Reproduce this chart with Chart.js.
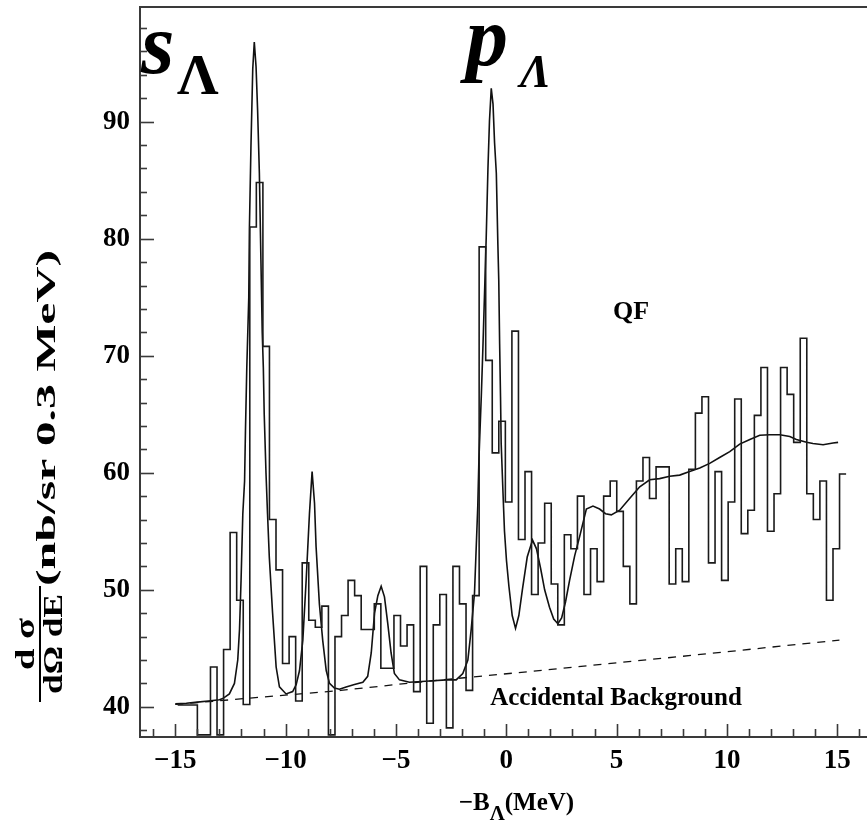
<!DOCTYPE html>
<html>
<head>
<meta charset="utf-8">
<script src="https://cdn.jsdelivr.net/npm/chart.js@4.4.0/dist/chart.umd.min.js"></script>
<style>
  body { margin: 0; background: #fff; }
  #wrap { width: 867px; height: 824px; }
</style>
</head>
<body>
<div id="wrap"><canvas id="espectro" width="867" height="824"></canvas></div>
<script>
// histogram: 0.3 MeV bins (as drawn), first bin starts at binStart
const binStart = -14.0;
const binWidth = 0.297;
const preBins = [40.15, 40.15, 40.15];
const counts = [
  37.6, 37.6, 43.4, 37.6, 44.9, 54.9, 49.1, 40.2, 81.0, 84.8,
  70.8, 56.0, 51.7, 43.7, 46.0, 40.5, 52.3, 47.4, 46.8, 48.6,
  37.6, 46.0, 47.8, 50.8, 49.5, 46.6, 46.6, 48.8, 43.3, 43.3,
  47.8, 45.2, 47.0, 41.3, 52.0, 38.6, 47.0, 49.6, 38.2, 52.0,
  48.8, 41.4, 49.5, 79.3, 69.6, 61.7, 64.4, 57.5, 72.1, 54.3,
  60.1, 49.6, 54.0, 57.4, 50.5, 47.0, 54.7, 53.5, 58.0, 49.6,
  53.5, 50.7, 58.0, 59.3, 56.7, 52.0, 48.8, 59.3, 61.3, 57.8,
  60.5, 60.5, 50.5, 53.5, 50.7, 60.3, 65.1, 66.5, 52.3, 60.1,
  50.8, 57.5, 66.3, 54.8, 56.8, 64.9, 69.0, 55.0, 58.2, 69.0,
  66.7, 62.6, 71.5, 58.2, 56.0, 59.3, 49.1, 53.5, 59.9
];

// fitted curve
const fitX = [-15.0, -14.5, -14.0, -13.5, -13.0, -12.85, -12.55, -12.32, -12.17, -12.09,
  -12.02, -11.94, -11.86, -11.82, -11.76, -11.67, -11.64, -11.57, -11.49, -11.42,
  -11.34, -11.27, -11.19, -11.12, -11.06, -11.01, -10.97, -10.89, -10.82, -10.74,
  -10.59, -10.43, -10.28, -9.98, -9.68, -9.52, -9.37, -9.22, -9.07, -8.92,
  -8.80, -8.69, -8.62, -8.47, -8.32, -8.16, -8.01, -7.79, -7.56, -7.26,
  -6.88, -6.50, -6.28, -6.12, -5.97, -5.82, -5.67, -5.52, -5.37, -5.22,
  -5.07, -4.84, -4.39, -3.48, -2.72, -2.27, -1.97, -1.74, -1.59, -1.44,
  -1.29, -1.24, -1.13, -1.06, -0.91, -0.83, -0.76, -0.68, -0.60, -0.53,
  -0.45, -0.38, -0.34, -0.30, -0.26, -0.23, -0.15, -0.08, 0.01, 0.12,
  0.27, 0.42, 0.57, 0.73, 0.95, 1.19, 1.37, 1.56, 1.74, 1.96,
  2.15, 2.34, 2.51, 2.69, 2.87, 3.10, 3.32, 3.63, 3.93, 4.23,
  4.50, 4.76, 5.14, 5.59, 6.05, 6.50, 6.95, 7.41, 7.86, 8.31,
  8.77, 9.22, 9.67, 10.13, 10.58, 11.04, 11.49, 11.94, 12.40, 12.85,
  13.15, 13.61, 13.90, 14.36, 14.81, 15.04];
const fitY = [40.25, 40.3, 40.4, 40.5, 40.6, 40.7, 41.1, 42.0, 44.0, 46.6,
  50.8, 56.5, 59.3, 63.6, 69.0, 75.0, 81.0, 88.0, 94.5, 96.8,
  94.7, 91.0, 85.6, 78.2, 72.0, 69.0, 65.0, 60.0, 56.5, 52.8,
  48.0, 43.4, 41.7, 41.1, 41.3, 41.9, 43.1, 45.7, 50.8, 56.5,
  60.1, 57.4, 53.7, 48.8, 45.7, 43.1, 42.0, 41.6, 41.5, 41.7,
  41.9, 42.1, 42.6, 44.6, 48.0, 49.5, 50.3, 49.4, 47.1, 44.6,
  42.85, 42.3, 42.1, 42.2, 42.3, 42.3, 42.85, 44.0, 46.6, 49.7,
  57.2, 61.1, 66.6, 70.6, 80.0, 86.0, 90.1, 92.85, 91.5, 88.2,
  85.6, 79.5, 76.5, 71.0, 66.5, 62.5, 58.4, 55.0, 52.5, 50.3,
  47.8, 46.7, 47.8, 50.0, 52.8, 54.25, 53.5, 51.8, 50.0, 48.5,
  47.5, 47.1, 47.6, 49.0, 50.8, 52.9, 54.5, 56.9, 57.15, 56.9,
  56.5, 56.4, 56.8, 57.8, 58.8, 59.4, 59.5, 59.7, 59.8, 60.1,
  60.4, 60.8, 61.3, 61.8, 62.45, 62.85, 63.2, 63.25, 63.25, 63.1,
  62.85, 62.6, 62.5, 62.4, 62.55, 62.6];

// accidental background (dashed)
const bgX = [-15.0, -7.5, -3.5, 1.0, 7.9, 15.1];
const bgY = [40.2, 41.4, 42.2, 43.0, 44.3, 45.7];

const xTicks = [-15, -10, -5, 0, 5, 10, 15];
const yTicks = [40, 50, 60, 70, 80, 90];

const serif = '"Liberation Serif", "DejaVu Serif", serif';

// build step points from the bins
const allBins = preBins.concat(counts);
const firstEdge = binStart - preBins.length * binWidth;
const histPoints = allBins.map((v, i) => ({ x: firstEdge + i * binWidth, y: v }));
histPoints.push({ x: firstEdge + allBins.length * binWidth, y: allBins[allBins.length - 1] });

const fitPoints = fitX.map((x, i) => ({ x: x, y: fitY[i] }));
const bgPoints = bgX.map((x, i) => ({ x: x, y: bgY[i] }));

function stretchedText(ctx, txt, x, y, len) {
  const w = ctx.measureText(txt).width;
  ctx.save();
  ctx.translate(x, y);
  ctx.scale(len / w, 1);
  ctx.fillText(txt, 0, 0);
  ctx.restore();
}

const decoraciones = {
  id: 'decoraciones',
  afterDraw(chart) {
    const ctx = chart.ctx;
    const a = chart.chartArea;
    const xs = chart.scales.x;
    const ys = chart.scales.y;
    ctx.save();
    ctx.strokeStyle = '#3a3a3a';
    ctx.lineWidth = 2;
    ctx.beginPath();
    ctx.moveTo(a.right, a.top);
    ctx.lineTo(a.left, a.top);
    ctx.lineTo(a.left, a.bottom);
    ctx.lineTo(a.right, a.bottom);
    ctx.stroke();

    // inward tick marks
    ctx.lineWidth = 1.6;
    for (let v = 38; v <= 98; v += 2) {
      const py = Math.round(ys.getPixelForValue(v)) + 0.5;
      const len = v % 10 === 0 ? 14 : 7;
      ctx.beginPath();
      ctx.moveTo(a.left, py);
      ctx.lineTo(a.left + len, py);
      ctx.stroke();
    }
    for (let v = -16; v <= 16; v++) {
      const px = Math.round(xs.getPixelForValue(v)) + 0.5;
      const len = v % 5 === 0 ? 13 : 8;
      ctx.beginPath();
      ctx.moveTo(px, a.bottom);
      ctx.lineTo(px, a.bottom - len);
      ctx.stroke();
    }

    ctx.fillStyle = '#000';
    // s_Lambda and p_Lambda
    ctx.textAlign = 'left';
    ctx.textBaseline = 'alphabetic';
    ctx.font = 'italic bold 86px ' + serif;
    ctx.fillText('s', 141, 73);
    ctx.font = 'bold 58px ' + serif;
    ctx.fillText('Λ', 177, 94);
    ctx.font = 'italic bold 84px ' + serif;
    ctx.fillText('p', 466, 65);
    ctx.font = 'italic bold 46px ' + serif;
    ctx.fillText('Λ', 520, 87);

    // in-plot labels
    ctx.textAlign = 'center';
    ctx.font = 'bold 26px ' + serif;
    ctx.fillText('QF', 631, 319);
    ctx.font = 'bold 25px ' + serif;
    ctx.fillText('Accidental Background', 616, 705);

    // x title: -B_Lambda(MeV)
    ctx.textAlign = 'left';
    const p1 = '\u2212B';
    const p3 = '(MeV)';
    ctx.font = 'bold 21px ' + serif;
    const wL = ctx.measureText('Λ').width;
    ctx.font = 'bold 25px ' + serif;
    const w1 = ctx.measureText(p1).width;
    const w3 = ctx.measureText(p3).width;
    let tx = (xs.left + xs.right) / 2 + 13 - (w1 + wL + w3) / 2;
    ctx.fillText(p1, tx, 810);
    ctx.font = 'bold 21px ' + serif;
    ctx.fillText('Λ', tx + w1, 820);
    ctx.font = 'bold 25px ' + serif;
    ctx.fillText(p3, tx + w1 + wL, 810);

    // y title: fraction d sigma / d Omega dE (nb/sr 0.3 MeV)
    ctx.save();
    ctx.translate(40, 644);
    ctx.rotate(-Math.PI / 2);
    ctx.font = 'bold 28px ' + serif;
    ctx.textAlign = 'left';
    stretchedText(ctx, 'd σ', -26, -6, 52);
    stretchedText(ctx, 'dΩ dE', -50, 22, 100);
    ctx.fillRect(-58, -1, 116, 2);
    stretchedText(ctx, '(nb/sr 0.3 MeV)', 58, 15, 336);
    ctx.restore();

    ctx.restore();
  }
};

new Chart(document.getElementById('espectro'), {
  type: 'line',
  data: {
    datasets: [
      {
        label: 'datos',
        data: histPoints,
        stepped: 'before',
        borderColor: '#1a1a1a',
        borderWidth: 1.6,
        pointRadius: 0,
        fill: false
      },
      {
        label: 'ajuste',
        data: fitPoints,
        borderColor: '#111',
        borderWidth: 1.6,
        pointRadius: 0,
        tension: 0,
        fill: false
      },
      {
        label: 'fondo',
        data: bgPoints,
        borderColor: '#111',
        borderWidth: 1.3,
        borderDash: [8, 7],
        pointRadius: 0,
        fill: false
      }
    ]
  },
  options: {
    responsive: false,
    animation: false,
    layout: { padding: { top: 7, right: 0, left: 0, bottom: 0 } },
    plugins: { legend: { display: false }, tooltip: { enabled: false } },
    scales: {
      x: {
        type: 'linear',
        min: -16.6,
        max: 16.35,
        grid: { display: false, drawTicks: false },
        border: { display: false },
        afterFit: function(scale) {
          scale.height = 87;
          scale.paddingLeft = 0;
          scale.paddingRight = 0;
        },
        afterBuildTicks: function(scale) { scale.ticks = xTicks.map(v => ({ value: v })); },
        ticks: {
          autoSkip: false,
          maxRotation: 0,
          padding: 8,
          color: '#000',
          font: { family: serif, size: 27, weight: 'bold' },
          callback: function(v) { return v < 0 ? '\u2212' + Math.abs(v) : String(v); }
        }
      },
      y: {
        min: 37.42,
        max: 99.8,
        grid: { display: false, drawTicks: false },
        border: { display: false },
        afterFit: function(scale) {
          scale.width = 140;
          scale.paddingTop = 0;
          scale.paddingBottom = 0;
        },
        afterBuildTicks: function(scale) { scale.ticks = yTicks.map(v => ({ value: v })); },
        ticks: {
          padding: 10,
          color: '#000',
          font: { family: serif, size: 27, weight: 'bold' }
        }
      }
    }
  },
  plugins: [decoraciones]
});
</script>
</body>
</html>
